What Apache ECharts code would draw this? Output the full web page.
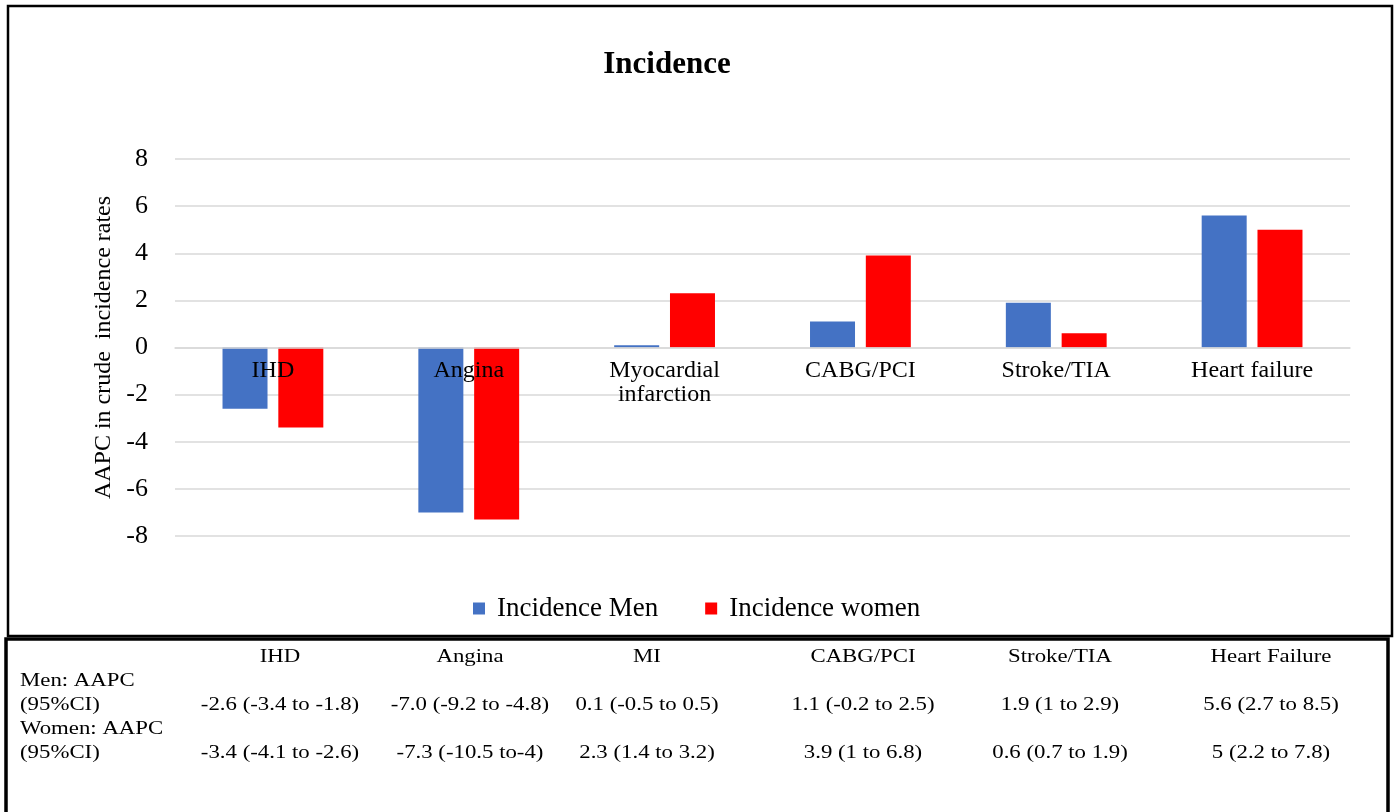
<!DOCTYPE html>
<html>
<head>
<meta charset="utf-8">
<script src="https://cdn.jsdelivr.net/npm/echarts@6/dist/echarts.min.js"></script>
<style>
html,body{margin:0;padding:0;background:#fff;}
#chart{width:1397px;height:812px;}
</style>
</head>
<body>
<div id="chart"></div>
<script>
// ---- data ----
const titleText = 'Incidence';
const yAxisName = 'AAPC in crude  incidence rates';
const categories = ['IHD', 'Angina', 'Myocardial\ninfarction', 'CABG/PCI', 'Stroke/TIA', 'Heart failure'];
const seriesNames = ['Incidence Men', 'Incidence women'];
const menValues = [-2.6, -7.0, 0.1, 1.1, 1.9, 5.6];
const womenValues = [-3.4, -7.3, 2.3, 3.9, 0.6, 5.0];
const yMin = -8, yMax = 8, yStep = 2;
const tableHeaders = ['IHD', 'Angina', 'MI', 'CABG/PCI', 'Stroke/TIA', 'Heart Failure'];
const tableRowLabels = ['Men: AAPC', '(95%CI)', 'Women: AAPC', '(95%CI)'];
const menCI = ['-2.6 (-3.4 to -1.8)', '-7.0 (-9.2 to -4.8)', '0.1 (-0.5 to 0.5)', '1.1 (-0.2 to 2.5)', '1.9 (1 to 2.9)', '5.6 (2.7 to 8.5)'];
const womenCI = ['-3.4 (-4.1 to -2.6)', '-7.3 (-10.5 to-4)', '2.3 (1.4 to 3.2)', '3.9 (1 to 6.8)', '0.6 (0.7 to 1.9)', '5 (2.2 to 7.8)'];

// ---- layout / style ----
const FONT = '"Liberation Serif", "Times New Roman", serif';
const colX = [280, 470, 647, 863, 1060, 1271];
const tableFont = 19;
const tableScaleX = 1.2;
const rowY = {header: 657, men1: 681, vals1: 705, women1: 729, vals2: 753};
const gridTop = 159, gridBottom = 276;
const plotH = 812 - gridTop - gridBottom;
// move the category axis up to the value 0 line
const zeroOffset = -plotH * (0 - yMin) / (yMax - yMin);

const chart = echarts.init(document.getElementById('chart'), null, {renderer: 'canvas'});

function tText(x, y, text, align) {
  return {
    type: 'text', x: x, y: y, scaleX: tableScaleX, z: 10,
    style: {text: text, fill: '#000', font: tableFont + 'px ' + FONT,
            textAlign: align || 'center', textVerticalAlign: 'middle'}
  };
}

const graphics = [];
graphics.push({type: 'rect', z: 20, shape: {x: 8, y: 6, width: 1384, height: 630},
  style: {fill: 'none', stroke: '#000', lineWidth: 2.5}});
graphics.push({type: 'polyline', z: 20, shape: {points: [[6, 812], [6, 639], [1388, 639], [1388, 812]]},
  style: {fill: 'none', stroke: '#000', lineWidth: 3.5}});
tableHeaders.forEach((h, i) => graphics.push(tText(colX[i], rowY.header, h)));
menCI.forEach((v, i) => graphics.push(tText(colX[i], rowY.vals1, v)));
womenCI.forEach((v, i) => graphics.push(tText(colX[i], rowY.vals2, v)));
graphics.push(tText(20, rowY.men1, tableRowLabels[0], 'left'));
graphics.push(tText(20, rowY.vals1, tableRowLabels[1], 'left'));
graphics.push(tText(20, rowY.women1, tableRowLabels[2], 'left'));
graphics.push(tText(20, rowY.vals2, tableRowLabels[3], 'left'));

const option = {
  backgroundColor: '#fff',
  animation: false,
  title: {
    text: titleText, left: 662, textAlign: 'center', top: 44,
    textStyle: {fontFamily: FONT, fontWeight: 'bold', fontSize: 31, color: '#000'}
  },
  legend: {
    data: seriesNames, left: 468, top: 590, itemWidth: 12, itemHeight: 12, itemGap: 47,
    icon: 'rect',
    textStyle: {fontFamily: FONT, fontSize: 27, color: '#000', padding: [0, 0, 0, 7]}
  },
  grid: {left: 175, right: 47, top: gridTop, bottom: gridBottom, containLabel: false},
  xAxis: {
    type: 'category', data: categories, z: 5, position: 'bottom', offset: zeroOffset,
    axisLine: {show: true, onZero: false, lineStyle: {color: '#d9d9d9', width: 1.5}},
    axisTick: {show: false},
    axisLabel: {fontFamily: FONT, fontSize: 24, color: '#000', margin: 11, lineHeight: 24, interval: 0}
  },
  yAxis: {
    type: 'value', min: yMin, max: yMax, interval: yStep,
    name: yAxisName, nameLocation: 'middle', nameGap: 57, nameRotate: 90,
    nameTextStyle: {fontFamily: FONT, fontSize: 24, color: '#000'},
    axisLine: {show: false}, axisTick: {show: false},
    axisLabel: {fontFamily: FONT, fontSize: 26, color: '#000', margin: 27},
    splitLine: {lineStyle: {color: '#d9d9d9', width: 1.5}}
  },
  series: [
    {name: seriesNames[0], type: 'bar', data: menValues, barWidth: 45, barGap: '24%',
     itemStyle: {color: '#4472C4'}},
    {name: seriesNames[1], type: 'bar', data: womenValues, barWidth: 45, barGap: '24%',
     itemStyle: {color: '#FF0000'}}
  ],
  graphic: graphics
};
chart.setOption(option);
</script>
</body>
</html>
